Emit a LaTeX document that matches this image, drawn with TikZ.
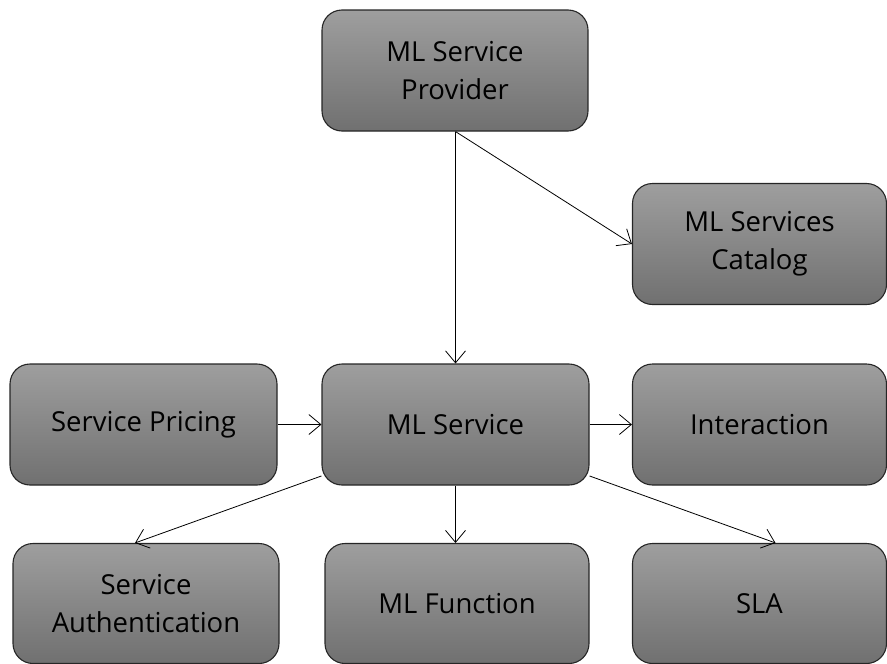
\documentclass[tikz,border=0pt]{standalone}
\usepackage{fontspec}
\setmainfont{Open Sans}
\usetikzlibrary{arrows.meta,positioning}

\begin{document}
\begin{tikzpicture}[x=1pt,y=-1pt,
		box/.style={draw=black!85, line width=1.1pt, rounded corners=20pt,
			top color=black!38, bottom color=black!56, inner sep=0pt,
			minimum height=121pt, align=center, font=\fontsize{27.5}{38}\selectfont},
		link/.style={draw, line width=0.8pt, -{Straight Barb[length=12pt,width=20pt]}}]
		\useasboundingbox (0,0) rectangle (887,664);
		\node[box, minimum width=266pt] (prov) at (455,70.5) {ML Service\\Provider};
		\node[box, minimum width=254pt] (cat) at (759.5,244) {ML Services\\Catalog};
		\node[box, minimum width=267pt] (serv) at (455.5,424.5) {ML Service};
		\node[box, minimum width=267pt] (price) at (143.5,424.5) {Service Pricing};
		\node[box, minimum width=254pt] (inter) at (759.5,424.5) {Interaction};
		\node[box, minimum width=266pt, minimum height=120pt] (auth) at (146,603.5) {Service\\Authentication};
		\node[box, minimum width=264pt, minimum height=120pt] (func) at (457,603.5) {ML Function};
		\node[box, minimum width=254pt, minimum height=120pt] (sla) at (759.5,603.5) {SLA};
		% connectors
		\draw[link] (prov.south -| serv.north) -- (serv.north);
		\draw[link] (prov.south -| serv.north) -- (cat.west);
		\draw[link] (price) -- (serv);
		\draw[link] (serv) -- (inter);
		\draw[link] (serv.201) -- ([xshift=-11pt]auth.north);
		\draw[link] (serv.south) -- (serv.south |- func.north);
		\draw[link] (serv.-21) -- ([xshift=16pt]sla.north);
	\end{tikzpicture}
\end{document}
